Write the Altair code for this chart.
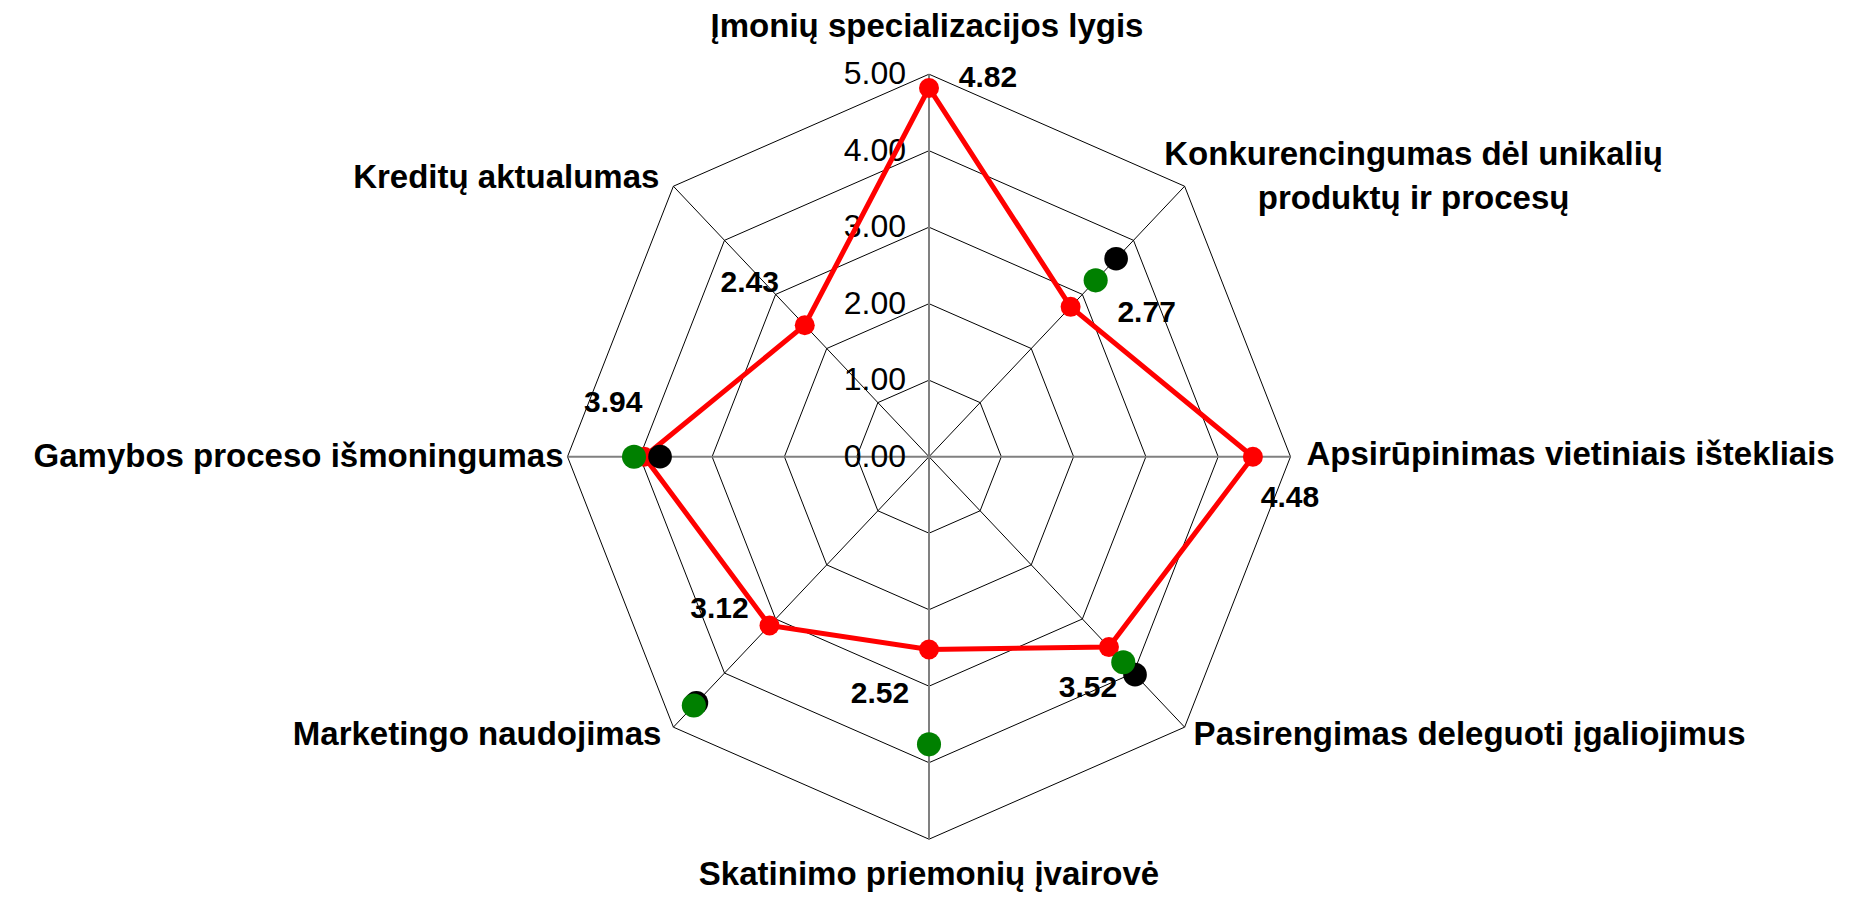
import math
import altair as alt
import pandas as pd

# ---------------- data ----------------
categories = [
    "Įmonių specializacijos lygis",
    "Konkurencingumas dėl unikalių\nproduktų ir procesų",
    "Apsirūpinimas vietiniais ištekliais",
    "Pasirengimas deleguoti įgaliojimus",
    "Skatinimo priemonių įvairovė",
    "Marketingo naudojimas",
    "Gamybos proceso išmoningumas",
    "Kreditų aktualumas",
]
red_values = [4.82, 2.77, 4.48, 3.52, 2.52, 3.12, 3.94, 2.43]
black_values = [None, 3.66, None, 4.03, None, 4.55, 3.72, None]
green_values = [None, 3.26, None, 3.80, 3.76, 4.60, 4.08, None]
value_labels = ["4.82", "2.77", "4.48", "3.52", "2.52", "3.12", "3.94", "2.43"]
tick_values = [0, 1, 2, 3, 4, 5]
tick_labels = ["0.00", "1.00", "2.00", "3.00", "4.00", "5.00"]

# ---------------- layout / style ----------------
W, H = 1842, 885
CX, CY = 921.0, 448.7          # centre of the radar inside the plot area (px)
PXX, PXY = 72.3, 76.5          # px per unit horizontally / vertically
RMAX = 5

cat_align = ["center", "center", "left", "left", "center", "right", "right", "right"]
cat_dx = [-2, 229, 16, 9, 0, -12, -4, -14]
cat_dy = [-47, -31, -2, 8, 36, 8, 0, -8]
val_dx = [59, 76, 37, -21, -49, -50, -31, -55]
val_dy = [-10, 6, 41, 41, 45, -16, -54, -42]

n = len(categories)
ang = [i * 2 * math.pi / n for i in range(n)]

xmin = -CX / PXX
xmax = xmin + W / PXX
ymax = CY / PXY
ymin = ymax - H / PXY
xs = alt.Scale(domain=[xmin, xmax], nice=False, zero=False)
ys = alt.Scale(domain=[ymin, ymax], nice=False, zero=False)


def X(f="x"):
    return alt.X(f + ":Q", scale=xs, axis=None)


def Y(f="y"):
    return alt.Y(f + ":Q", scale=ys, axis=None)


# rings
ring_rows = []
for r in tick_values[1:]:
    for k in range(n + 1):
        a = ang[k % n]
        ring_rows.append({"ring": r, "k": k, "x": r * math.sin(a), "y": r * math.cos(a)})
rings = pd.DataFrame(ring_rows)

# spokes
spoke_rows = []
for i, a in enumerate(ang):
    spoke_rows.append({"x": 0.0, "y": 0.0, "x1": RMAX * math.sin(a), "y1": RMAX * math.cos(a),
                       "kind": "main" if i % 2 == 0 else "diag"})
spokes = pd.DataFrame(spoke_rows)


def series(vals):
    rows = []
    for i, v in enumerate(vals):
        if v is None:
            continue
        rows.append({"i": i, "x": v * math.sin(ang[i]), "y": v * math.cos(ang[i])})
    return pd.DataFrame(rows)


red = series(red_values)
red_closed = pd.concat([red, red.iloc[[0]].assign(i=n)], ignore_index=True)
black = series(black_values)
green = series(green_values)

vlab = pd.DataFrame({
    "label": value_labels,
    "x": [v * math.sin(a) + dx / PXX for v, a, dx in zip(red_values, ang, val_dx)],
    "y": [v * math.cos(a) - dy / PXY for v, a, dy in zip(red_values, ang, val_dy)],
})

clab = pd.DataFrame({
    "label": categories,
    "align": cat_align,
    "x": [RMAX * math.sin(a) + dx / PXX for a, dx in zip(ang, cat_dx)],
    "y": [RMAX * math.cos(a) - dy / PXY for a, dy in zip(ang, cat_dy)],
})

tlab = pd.DataFrame({"label": tick_labels, "x": [0.0] * len(tick_values), "y": tick_values})

# ---------------- layers ----------------
ring_layer = alt.Chart(rings).mark_line(color="#000000", strokeWidth=1).encode(
    x=X(), y=Y(), detail="ring:N", order="k:Q")

spoke_diag = alt.Chart(spokes).transform_filter(alt.datum.kind == "diag").mark_rule(
    color="#000000", strokeWidth=1).encode(x=X(), y=Y(), x2="x1:Q", y2="y1:Q")
spoke_main = alt.Chart(spokes).transform_filter(alt.datum.kind == "main").mark_rule(
    color="#808080", strokeWidth=2).encode(x=X(), y=Y(), x2="x1:Q", y2="y1:Q")

tick_layer = alt.Chart(tlab).mark_text(
    align="right", baseline="middle", dx=-23, font="Liberation Sans", fontSize=32, color="#000000"
).encode(x=X(), y=Y(), text="label:N")

red_line = alt.Chart(red_closed).mark_line(color="#ff0000", strokeWidth=5).encode(
    x=X(), y=Y(), order="i:Q")
red_pts = alt.Chart(red).mark_circle(color="#ff0000", size=400, opacity=1).encode(x=X(), y=Y())
black_pts = alt.Chart(black).mark_circle(color="#000000", size=560, opacity=1).encode(x=X(), y=Y())
green_pts = alt.Chart(green).mark_circle(color="#008000", size=580, opacity=1).encode(x=X(), y=Y())

val_layer = alt.Chart(vlab).mark_text(
    align="center", baseline="middle", font="Liberation Sans", fontSize=30, fontWeight="bold",
    color="#000000"
).encode(x=X(), y=Y(), text="label:N")

cat_layers = []
for al in ["left", "center", "right"]:
    cat_layers.append(
        alt.Chart(clab).transform_filter(alt.datum.align == al).mark_text(
            align=al, baseline="middle", font="Liberation Sans", fontSize=33, fontWeight="bold",
            color="#000000", lineBreak="\n", lineHeight=44
        ).encode(x=X(), y=Y(), text="label:N")
    )

chart = alt.layer(
    ring_layer, spoke_diag, spoke_main, tick_layer, red_line, red_pts, black_pts, green_pts,
    val_layer, *cat_layers
).properties(
    width=W, height=H, padding=0, autosize=alt.AutoSizeParams(type="none"),
    background="#ffffff"
).configure_view(strokeWidth=0)

chart.save("out.html", embed_options={"renderer": "svg", "actions": False})
